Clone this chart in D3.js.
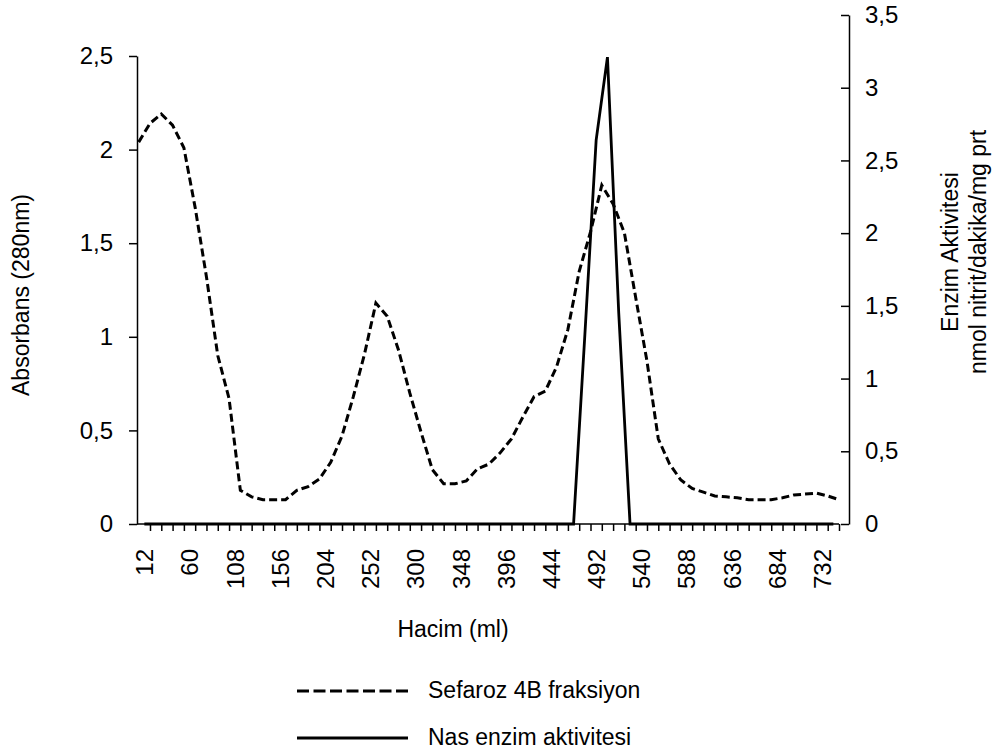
<!DOCTYPE html>
<html lang="tr">
  <head>
    <meta charset="UTF-8" />
    <title>Sefaroz 4B - Nas enzim aktivitesi</title>
    <script src="https://d3js.org/d3.v7.min.js"></script>
    <style>
      body {
        margin: 0;
        background: #fff;
      }
      svg text {
        font-family: "Liberation Sans", Arial, sans-serif;
        fill: #000;
      }
    </style>
  </head>
  <body>
    <svg id="chart" width="994" height="751"></svg>

    <script>
      // fraction volumes (ml) for the enzyme activity series
      const volumes = [
        12, 24, 36, 48, 60, 72, 84, 96, 108, 120, 132, 144, 156, 168, 180,
        192, 204, 216, 228, 240, 252, 264, 276, 288, 300, 312, 324, 336, 348,
        360, 372, 384, 396, 408, 420, 432, 444, 456, 468, 480, 492, 504, 516,
        528, 540, 552, 564, 576, 588, 600, 612, 624, 636, 648, 660, 672, 684,
        696, 708, 720, 732, 744,
      ];

      // positions of the absorbance readings along the volume axis
      const absorbVolumes = [
        6, 18, 30, 42, 54, 66, 78, 90, 102, 114, 126, 138, 150, 162, 174, 186,
        198, 210, 222, 234, 246, 258, 270, 282, 294, 306, 318, 330, 342, 354,
        366, 378, 390, 402, 414, 426, 438, 450, 462, 474, 486, 498, 510, 522,
        534, 546, 558, 570, 582, 594, 606, 618, 630, 642, 654, 666, 678, 690,
        702, 714, 726, 738, 750,
      ];

      // Sefaroz 4B fraksiyon - Absorbans (280nm)
      const absorbance = [
        2.04, 2.14, 2.19, 2.13, 2.01, 1.69, 1.32, 0.9, 0.67, 0.18, 0.145, 0.13,
        0.13, 0.13, 0.18, 0.2, 0.24, 0.33, 0.47, 0.68, 0.91, 1.18, 1.11, 0.93,
        0.7, 0.49, 0.29, 0.215, 0.215, 0.23, 0.295, 0.32, 0.38, 0.455, 0.57,
        0.68, 0.71, 0.84, 1.04, 1.35, 1.56, 1.81, 1.71, 1.555, 1.21, 0.87,
        0.455, 0.32, 0.235, 0.19, 0.17, 0.15, 0.145, 0.14, 0.13, 0.13, 0.13,
        0.14, 0.155, 0.16, 0.165, 0.15, 0.13,
      ];

      // Nas enzim aktivitesi - nmol nitrit/dakika/mg prt
      const enzymeActivity = [
        0, 0, 0, 0, 0, 0, 0, 0, 0, 0, 0, 0, 0, 0, 0, 0, 0, 0, 0, 0, 0, 0, 0,
        0, 0, 0, 0, 0, 0, 0, 0, 0, 0, 0, 0, 0, 0, 0, 0, 1.3, 2.64, 3.21, 1.45,
        0, 0, 0, 0, 0, 0, 0, 0, 0, 0, 0, 0, 0, 0, 0, 0, 0, 0, 0,
      ];

      const xLabels = [
        12, 60, 108, 156, 204, 252, 300, 348, 396, 444, 492, 540, 588, 636,
        684, 732,
      ];
      const xTickMarks = absorbVolumes.slice(1);
      const leftTicks = [0, 0.5, 1, 1.5, 2, 2.5];
      const rightTicks = [0, 0.5, 1, 1.5, 2, 2.5, 3, 3.5];

      const svg = d3.select("#chart");
      const plot = { left: 137, right: 839, top: 56, bottom: 524 };
      const rightAxisX = 849;

      const fmt = (d) => String(d).replace(".", ",");

      const x = d3
        .scaleLinear()
        .domain([6, 750])
        .range([138.7, plot.right]);

      const yLeft = d3
        .scaleLinear()
        .domain([0, 2.5])
        .range([plot.bottom, plot.top]);

      const yRight = d3.scaleLinear().domain([0, 3.5]).range([plot.bottom, 15]);

      // left axis
      const leftAxis = svg
        .append("g")
        .attr("transform", `translate(${plot.left},0)`)
        .call(
          d3
            .axisLeft(yLeft)
            .tickValues(leftTicks)
            .tickFormat(fmt)
            .tickSize(8)
            .tickSizeOuter(0)
            .tickPadding(16)
        );
      leftAxis.selectAll("text").style("font-size", "24px");

      // right axis, ticks point inward
      const rightAxis = svg
        .append("g")
        .attr("transform", `translate(${rightAxisX},0)`)
        .call(
          d3
            .axisRight(yRight)
            .tickValues(rightTicks)
            .tickFormat(fmt)
            .tickSize(-8)
            .tickSizeOuter(0)
            .tickPadding(16)
        );
      rightAxis.selectAll("text").style("font-size", "24px");

      // bottom axis: small ticks between fractions, labels every 48 ml
      const bottomTicks = svg
        .append("g")
        .attr("transform", `translate(0,${plot.bottom})`)
        .call(
          d3
            .axisBottom(x)
            .tickValues(xTickMarks)
            .tickFormat("")
            .tickSize(7)
            .tickSizeOuter(0)
        );
      bottomTicks.select(".domain").remove();

      const bottomLabels = svg
        .append("g")
        .attr("transform", `translate(0,${plot.bottom})`)
        .call(d3.axisBottom(x).tickValues(xLabels).tickSize(0));
      bottomLabels.select(".domain").remove();
      bottomLabels
        .selectAll("text")
        .attr("transform", "rotate(-90)")
        .attr("x", -25)
        .attr("y", 0)
        .attr("dy", "0.35em")
        .style("text-anchor", "end")
        .style("font-size", "24px");

      svg
        .append("line")
        .attr("x1", plot.left)
        .attr("x2", plot.right)
        .attr("y1", plot.bottom)
        .attr("y2", plot.bottom)
        .attr("stroke", "#000")
        .attr("stroke-width", 1.5);

      svg.selectAll(".domain").attr("stroke-width", 1.5);
      svg.selectAll(".tick line").attr("stroke-width", 1.5);

      // lines
      const absLine = d3
        .line()
        .x((d, i) => x(absorbVolumes[i]))
        .y((d) => yLeft(d));

      const enzLine = d3
        .line()
        .x((d, i) => x(volumes[i]))
        .y((d) => yRight(d));

      svg
        .append("path")
        .datum(enzymeActivity)
        .attr("fill", "none")
        .attr("stroke", "#000")
        .attr("stroke-width", 2.8)
        .attr("stroke-linejoin", "miter")
        .attr("d", enzLine);

      svg
        .append("path")
        .datum(absorbance)
        .attr("fill", "none")
        .attr("stroke", "#000")
        .attr("stroke-width", 3)
        .attr("stroke-dasharray", "8,4")
        .attr("d", absLine);

      // axis titles
      svg
        .append("text")
        .attr("transform", "translate(21,295) rotate(-90)")
        .attr("dy", "0.35em")
        .style("text-anchor", "middle")
        .style("font-size", "23px")
        .text("Absorbans (280nm)");

      svg
        .append("text")
        .attr("x", 453)
        .attr("y", 637)
        .style("text-anchor", "middle")
        .style("font-size", "23px")
        .text("Hacim (ml)");

      const rightTitle = svg
        .append("text")
        .attr("transform", "translate(950,252) rotate(-90)")
        .style("text-anchor", "middle")
        .style("font-size", "23px");
      rightTitle
        .append("tspan")
        .attr("x", 0)
        .attr("dy", "0.35em")
        .text("Enzim Aktivitesi");
      rightTitle
        .append("tspan")
        .attr("x", 0)
        .attr("dy", "1.2em")
        .text("nmol nitrit/dakika/mg prt");

      // legend
      const legendItems = [
        { label: "Sefaroz 4B fraksiyon", dash: "12,4.5", y: 691 },
        { label: "Nas enzim aktivitesi", dash: null, y: 738 },
      ];

      const legend = svg
        .selectAll(".legend-item")
        .data(legendItems)
        .enter()
        .append("g")
        .attr("class", "legend-item")
        .attr("transform", (d) => `translate(0,${d.y})`);

      legend
        .append("line")
        .attr("x1", 297)
        .attr("x2", 408)
        .attr("stroke", "#000")
        .attr("stroke-width", 3)
        .attr("stroke-dasharray", (d) => d.dash);

      legend
        .append("text")
        .attr("x", 428)
        .attr("y", 7)
        .style("font-size", "23px")
        .text((d) => d.label);
    </script>
  </body>
</html>
